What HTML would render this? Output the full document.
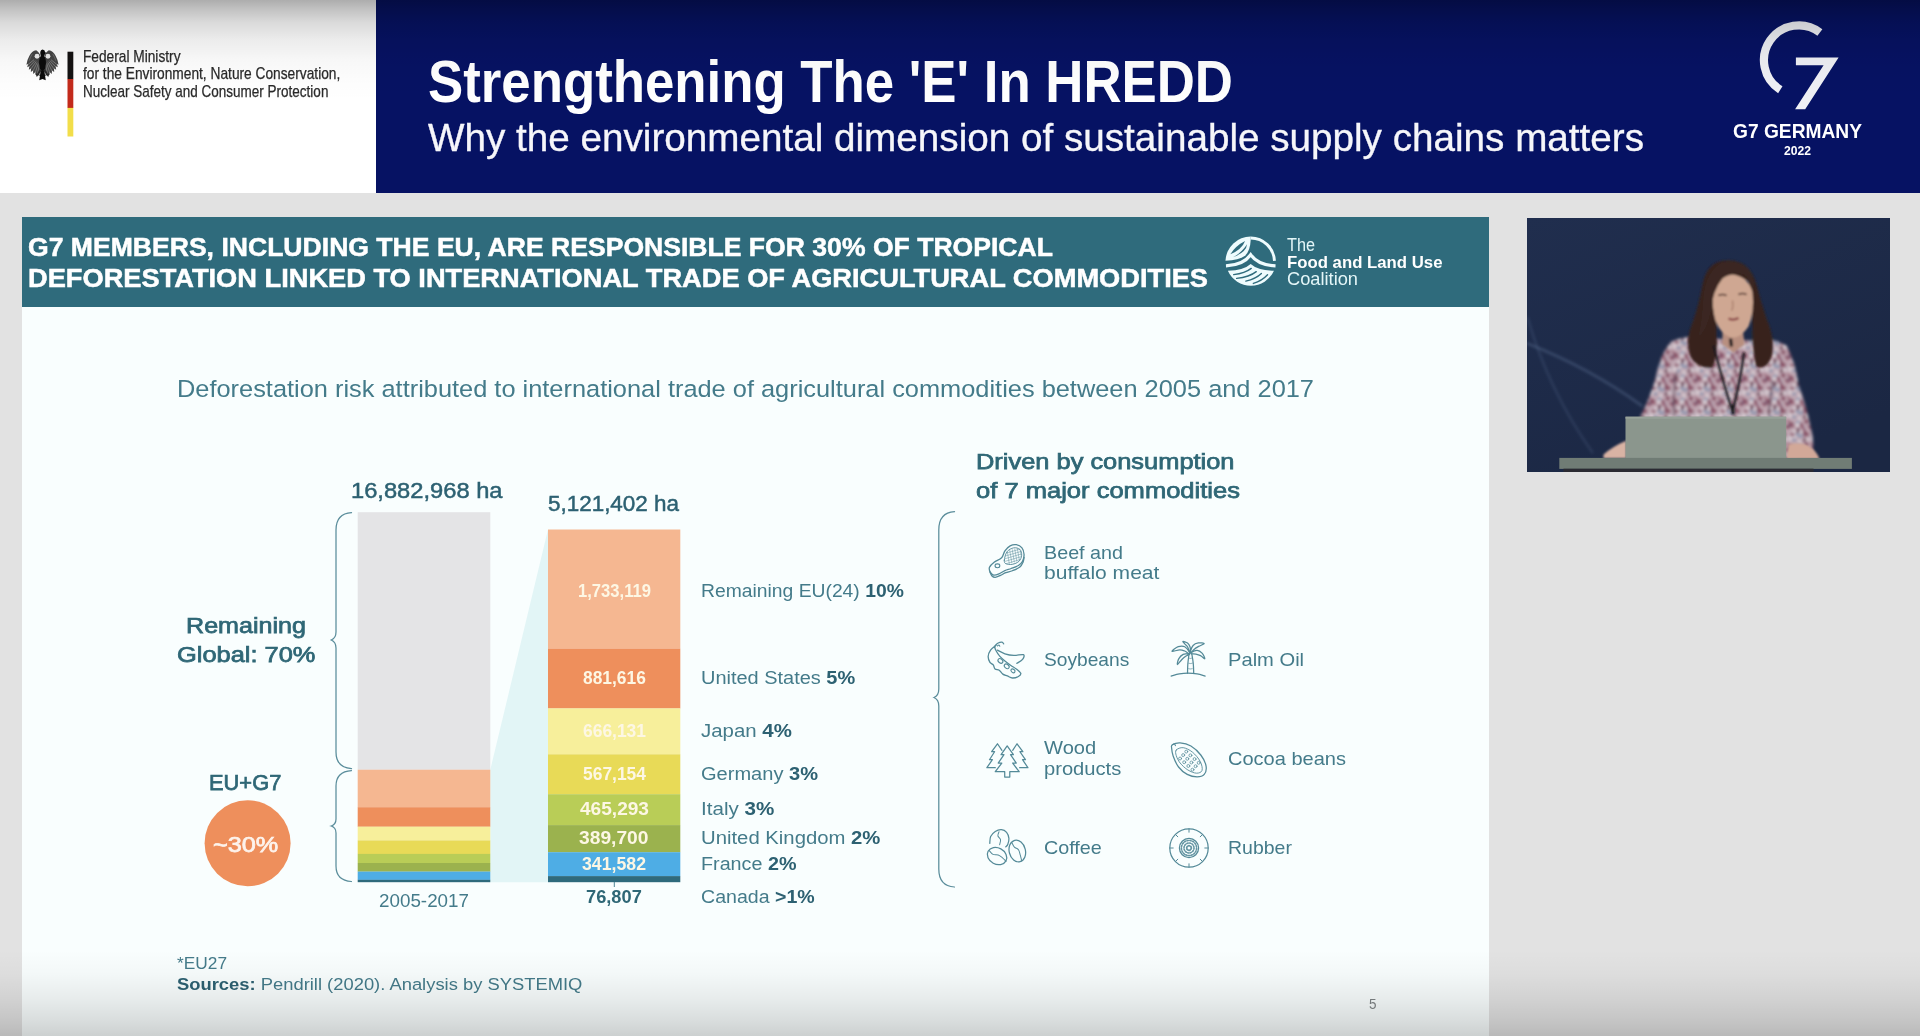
<!DOCTYPE html>
<html lang="en">
<head>
<meta charset="utf-8">
<title>Strengthening The 'E' In HREDD</title>
<style>
html,body{margin:0;padding:0;}
body{width:1920px;height:1036px;overflow:hidden;background:#e2e2e2;position:relative;font-family:"Liberation Sans",sans-serif;}
.abs{position:absolute;}
.t{position:absolute;white-space:nowrap;transform-origin:0 50%;display:inline-block;}
.t b{font-weight:bold;}
#white{left:0;top:0;width:376px;height:192.5px;background:#fff;}
#blue{left:376px;top:0;width:1544px;height:192.5px;background:#061263;}
#slide{left:22px;top:217px;width:1467px;height:819px;background:#f9fefe;}
#teal{left:22px;top:217px;width:1467px;height:89.5px;background:#2f6b7c;}
#video{left:1526.5px;top:217.5px;width:363px;height:254.5px;background:#1e2b49;overflow:hidden;}
#shadeTop{left:0;top:0;width:1920px;height:100px;background:linear-gradient(to bottom,rgba(0,0,0,0.32) 0,rgba(0,0,0,0.235) 10%,rgba(0,0,0,0.15) 22%,rgba(0,0,0,0.075) 40%,rgba(0,0,0,0.032) 60%,rgba(0,0,0,0.01) 80%,rgba(0,0,0,0) 100%);pointer-events:none;}
#shadeBot{left:0;top:950px;width:1920px;height:86px;background:linear-gradient(to bottom,rgba(0,0,0,0) 0,rgba(0,0,0,0.025) 28%,rgba(0,0,0,0.075) 58%,rgba(0,0,0,0.13) 82%,rgba(0,0,0,0.18) 100%);pointer-events:none;}
svg{position:absolute;left:0;top:0;overflow:visible;}
</style>
</head>
<body>
<div id="white" class="abs"></div>
<div id="blue" class="abs"></div>
<div id="slide" class="abs"></div>
<div id="teal" class="abs"></div>
<div id="video" class="abs"><svg width="363" height="254.5" viewBox="1526.5 217.5 363 254.5" style="position:absolute;left:0;top:0">
<defs>
<filter id="bl1" x="-20%" y="-20%" width="140%" height="140%"><feGaussianBlur stdDeviation="1.1"/></filter>
<filter id="bl2" x="-20%" y="-20%" width="140%" height="140%"><feGaussianBlur stdDeviation="0.7"/></filter>
<filter id="bl3" x="-20%" y="-20%" width="140%" height="140%"><feGaussianBlur stdDeviation="1.6"/></filter>
<linearGradient id="vbg" x1="0" y1="0" x2="0.6" y2="1"><stop offset="0" stop-color="#202e4e"/><stop offset="1" stop-color="#1b2743"/></linearGradient>
<pattern id="floral" width="22" height="22" patternUnits="userSpaceOnUse" patternTransform="translate(1640 330) scale(1.05)">
<rect width="22" height="22" fill="#cdb6c0"/>
<ellipse cx="-1.1" cy="8.7" rx="1.2" ry="1.6" fill="#efeaed" transform="rotate(16 -1.1 8.7)"/>
<ellipse cx="20.9" cy="8.7" rx="1.2" ry="1.6" fill="#efeaed" transform="rotate(16 20.9 8.7)"/>
<ellipse cx="1.3" cy="11.2" rx="1.1" ry="1.3" fill="#8fa0bb" transform="rotate(12 1.3 11.2)"/>
<ellipse cx="23.3" cy="11.2" rx="1.1" ry="1.3" fill="#8fa0bb" transform="rotate(12 23.3 11.2)"/>
<ellipse cx="12.1" cy="1.3" rx="1.8" ry="1.8" fill="#84435a" transform="rotate(113 12.1 1.3)"/>
<ellipse cx="12.1" cy="23.3" rx="1.8" ry="1.8" fill="#84435a" transform="rotate(113 12.1 23.3)"/>
<ellipse cx="-1.2" cy="12.7" rx="1.6" ry="1.8" fill="#8fa0bb" transform="rotate(8 -1.2 12.7)"/>
<ellipse cx="20.8" cy="12.7" rx="1.6" ry="1.8" fill="#8fa0bb" transform="rotate(8 20.8 12.7)"/>
<ellipse cx="6.4" cy="3.2" rx="1.3" ry="1.2" fill="#84435a" transform="rotate(146 6.4 3.2)"/>
<ellipse cx="2.3" cy="12.6" rx="1.3" ry="1.0" fill="#9c5a6e" transform="rotate(128 2.3 12.6)"/>
<ellipse cx="24.3" cy="12.6" rx="1.3" ry="1.0" fill="#9c5a6e" transform="rotate(128 24.3 12.6)"/>
<ellipse cx="1.3" cy="4.5" rx="2.0" ry="1.3" fill="#8fa0bb" transform="rotate(56 1.3 4.5)"/>
<ellipse cx="23.3" cy="4.5" rx="2.0" ry="1.3" fill="#8fa0bb" transform="rotate(56 23.3 4.5)"/>
<ellipse cx="-1.7" cy="8.0" rx="1.4" ry="1.1" fill="#8fa0bb" transform="rotate(140 -1.7 8.0)"/>
<ellipse cx="20.3" cy="8.0" rx="1.4" ry="1.1" fill="#8fa0bb" transform="rotate(140 20.3 8.0)"/>
<ellipse cx="12.6" cy="11.6" rx="2.2" ry="1.6" fill="#84435a" transform="rotate(51 12.6 11.6)"/>
<ellipse cx="2.6" cy="9.2" rx="2.1" ry="1.0" fill="#84435a" transform="rotate(88 2.6 9.2)"/>
<ellipse cx="24.6" cy="9.2" rx="2.1" ry="1.0" fill="#84435a" transform="rotate(88 24.6 9.2)"/>
<ellipse cx="-0.8" cy="1.7" rx="1.8" ry="1.6" fill="#84435a" transform="rotate(147 -0.8 1.7)"/>
<ellipse cx="-0.8" cy="23.7" rx="1.8" ry="1.6" fill="#84435a" transform="rotate(147 -0.8 23.7)"/>
<ellipse cx="21.2" cy="1.7" rx="1.8" ry="1.6" fill="#84435a" transform="rotate(147 21.2 1.7)"/>
<ellipse cx="21.2" cy="23.7" rx="1.8" ry="1.6" fill="#84435a" transform="rotate(147 21.2 23.7)"/>
<ellipse cx="15.3" cy="13.1" rx="1.9" ry="1.3" fill="#efeaed" transform="rotate(151 15.3 13.1)"/>
<ellipse cx="10.4" cy="14.6" rx="1.2" ry="1.5" fill="#efeaed" transform="rotate(116 10.4 14.6)"/>
<ellipse cx="18.1" cy="6.3" rx="1.6" ry="1.5" fill="#5a2b40" transform="rotate(4 18.1 6.3)"/>
<ellipse cx="7.8" cy="13.4" rx="1.7" ry="1.1" fill="#efeaed" transform="rotate(51 7.8 13.4)"/>
<ellipse cx="8.8" cy="-1.8" rx="1.7" ry="1.0" fill="#9c5a6e" transform="rotate(72 8.8 -1.8)"/>
<ellipse cx="8.8" cy="20.2" rx="1.7" ry="1.0" fill="#9c5a6e" transform="rotate(72 8.8 20.2)"/>
<ellipse cx="-2.6" cy="18.0" rx="2.2" ry="1.2" fill="#efeaed" transform="rotate(74 -2.6 18.0)"/>
<ellipse cx="19.4" cy="18.0" rx="2.2" ry="1.2" fill="#efeaed" transform="rotate(74 19.4 18.0)"/>
<ellipse cx="15.0" cy="8.4" rx="1.4" ry="1.0" fill="#efeaed" transform="rotate(27 15.0 8.4)"/>
<ellipse cx="5.1" cy="10.7" rx="1.9" ry="1.1" fill="#5a2b40" transform="rotate(0 5.1 10.7)"/>
<ellipse cx="11.8" cy="13.4" rx="1.5" ry="1.0" fill="#efeaed" transform="rotate(154 11.8 13.4)"/>
<ellipse cx="14.4" cy="16.3" rx="1.7" ry="1.7" fill="#8fa0bb" transform="rotate(171 14.4 16.3)"/>
<ellipse cx="17.6" cy="8.6" rx="1.6" ry="1.0" fill="#5a2b40" transform="rotate(114 17.6 8.6)"/>
<ellipse cx="4.2" cy="-0.3" rx="1.7" ry="1.0" fill="#84435a" transform="rotate(108 4.2 -0.3)"/>
<ellipse cx="4.2" cy="21.7" rx="1.7" ry="1.0" fill="#84435a" transform="rotate(108 4.2 21.7)"/>
<ellipse cx="0.0" cy="3.3" rx="1.2" ry="1.2" fill="#84435a" transform="rotate(4 0.0 3.3)"/>
<ellipse cx="22.0" cy="3.3" rx="1.2" ry="1.2" fill="#84435a" transform="rotate(4 22.0 3.3)"/>
<ellipse cx="13.5" cy="3.3" rx="1.4" ry="1.2" fill="#9c5a6e" transform="rotate(65 13.5 3.3)"/>
<ellipse cx="2.5" cy="10.7" rx="2.4" ry="1.3" fill="#84435a" transform="rotate(56 2.5 10.7)"/>
<ellipse cx="24.5" cy="10.7" rx="2.4" ry="1.3" fill="#84435a" transform="rotate(56 24.5 10.7)"/>
<ellipse cx="2.2" cy="7.5" rx="1.4" ry="1.6" fill="#84435a" transform="rotate(29 2.2 7.5)"/>
<ellipse cx="24.2" cy="7.5" rx="1.4" ry="1.6" fill="#84435a" transform="rotate(29 24.2 7.5)"/>
<ellipse cx="4.5" cy="-1.1" rx="1.6" ry="1.5" fill="#84435a" transform="rotate(164 4.5 -1.1)"/>
<ellipse cx="4.5" cy="20.9" rx="1.6" ry="1.5" fill="#84435a" transform="rotate(164 4.5 20.9)"/>
<ellipse cx="6.6" cy="14.1" rx="1.2" ry="1.7" fill="#6d4a66" transform="rotate(93 6.6 14.1)"/>
<ellipse cx="7.8" cy="4.9" rx="1.8" ry="1.4" fill="#9c5a6e" transform="rotate(114 7.8 4.9)"/>
<ellipse cx="17.9" cy="-0.3" rx="2.2" ry="1.6" fill="#8fa0bb" transform="rotate(147 17.9 -0.3)"/>
<ellipse cx="17.9" cy="21.7" rx="2.2" ry="1.6" fill="#8fa0bb" transform="rotate(147 17.9 21.7)"/>
<ellipse cx="4.4" cy="10.8" rx="2.1" ry="1.8" fill="#9c5a6e" transform="rotate(142 4.4 10.8)"/>
<ellipse cx="5.7" cy="15.2" rx="2.3" ry="1.3" fill="#efeaed" transform="rotate(168 5.7 15.2)"/>
<ellipse cx="-1.0" cy="8.0" rx="1.4" ry="1.1" fill="#efeaed" transform="rotate(35 -1.0 8.0)"/>
<ellipse cx="21.0" cy="8.0" rx="1.4" ry="1.1" fill="#efeaed" transform="rotate(35 21.0 8.0)"/>
<ellipse cx="10.6" cy="-0.3" rx="1.9" ry="0.9" fill="#9c5a6e" transform="rotate(163 10.6 -0.3)"/>
<ellipse cx="10.6" cy="21.7" rx="1.9" ry="0.9" fill="#9c5a6e" transform="rotate(163 10.6 21.7)"/>
<ellipse cx="17.6" cy="1.9" rx="2.0" ry="1.7" fill="#efeaed" transform="rotate(140 17.6 1.9)"/>
<ellipse cx="17.6" cy="23.9" rx="2.0" ry="1.7" fill="#efeaed" transform="rotate(140 17.6 23.9)"/>
<ellipse cx="10.5" cy="3.9" rx="2.1" ry="1.2" fill="#9c5a6e" transform="rotate(144 10.5 3.9)"/>
<ellipse cx="10.2" cy="16.4" rx="1.2" ry="1.0" fill="#efeaed" transform="rotate(178 10.2 16.4)"/>
<ellipse cx="3.3" cy="-2.1" rx="2.1" ry="1.0" fill="#84435a" transform="rotate(148 3.3 -2.1)"/>
<ellipse cx="3.3" cy="19.9" rx="2.1" ry="1.0" fill="#84435a" transform="rotate(148 3.3 19.9)"/>
<ellipse cx="14.5" cy="7.7" rx="1.8" ry="1.0" fill="#efeaed" transform="rotate(2 14.5 7.7)"/>
<ellipse cx="2.3" cy="16.5" rx="1.3" ry="1.8" fill="#5a2b40" transform="rotate(35 2.3 16.5)"/>
<ellipse cx="24.3" cy="16.5" rx="1.3" ry="1.8" fill="#5a2b40" transform="rotate(35 24.3 16.5)"/>
<ellipse cx="0.6" cy="4.7" rx="1.8" ry="1.6" fill="#9c5a6e" transform="rotate(58 0.6 4.7)"/>
<ellipse cx="22.6" cy="4.7" rx="1.8" ry="1.6" fill="#9c5a6e" transform="rotate(58 22.6 4.7)"/>
<ellipse cx="9.2" cy="2.9" rx="2.3" ry="1.2" fill="#6d4a66" transform="rotate(82 9.2 2.9)"/>
<ellipse cx="9.2" cy="24.9" rx="2.3" ry="1.2" fill="#6d4a66" transform="rotate(82 9.2 24.9)"/>
<ellipse cx="17.9" cy="11.4" rx="2.2" ry="1.7" fill="#8fa0bb" transform="rotate(23 17.9 11.4)"/>
<ellipse cx="11.5" cy="0.4" rx="1.7" ry="1.1" fill="#84435a" transform="rotate(0 11.5 0.4)"/>
<ellipse cx="11.5" cy="22.4" rx="1.7" ry="1.1" fill="#84435a" transform="rotate(0 11.5 22.4)"/>
<ellipse cx="3.8" cy="10.4" rx="2.0" ry="1.4" fill="#84435a" transform="rotate(58 3.8 10.4)"/>
</pattern>
</defs>
<rect x="1526.5" y="217.5" width="363" height="254.5" fill="url(#vbg)"/>
<g fill="none" stroke="#64799e" stroke-linecap="round" filter="url(#bl3)">
<path d="M1527,317 Q1548,390 1592,452" stroke-width="1.6" opacity="0.32"/>
<path d="M1527,343 Q1590,368 1641,405" stroke-width="2.2" opacity="0.45"/>
</g>
<g filter="url(#bl3)">
<!-- blouse -->
<path d="M1671,341 Q1690,333 1712,338 L1750,340 Q1772,336 1786,345 Q1795,362 1798,384 Q1806,406 1810,426 Q1814,440 1812,452 L1790,458 L1640,458 L1640,416 Q1650,396 1655,378 Q1660,352 1671,341 Z" fill="url(#floral)"/>
<path d="M1671,341 Q1690,333 1712,338 L1750,340 Q1772,336 1786,345 Q1795,362 1798,384 Q1806,406 1810,426 Q1814,440 1812,452 L1790,458 L1640,458 L1640,416 Q1650,396 1655,378 Q1660,352 1671,341 Z" fill="#8a7482" opacity="0.2"/>
<!-- sleeve shadows -->
<path d="M1676,372 Q1672,396 1674,416 M1772,380 Q1770,400 1768,416" stroke="#5c4658" stroke-width="3" fill="none" opacity="0.55"/>
</g><g filter="url(#bl1)">
<!-- hands -->
<path d="M1626,440 Q1612,446 1603,454 L1603,458 L1626,458 Z" fill="#d9b3a4"/>
<path d="M1788,444 Q1802,440 1812,448 Q1818,454 1819,459 L1786,459 Z" fill="#d2a898"/>
<!-- neck -->
<path d="M1722,326 L1742,326 L1744,344 L1733,352 L1722,344 Z" fill="#b88f7f"/>
<!-- hair back -->
<path d="M1724,260 Q1706,262 1702,284 Q1698,306 1692,322 Q1684,340 1690,356 Q1696,368 1712,367 Q1718,352 1716,334 L1716,300 Q1718,282 1730,276 L1748,280 Q1752,304 1752,328 Q1752,352 1756,366 Q1768,370 1772,352 Q1774,336 1766,318 Q1760,300 1756,284 Q1750,264 1736,261 Q1730,259 1724,260 Z" fill="#37241f"/>
<!-- face -->
<path d="M1713,292 Q1716,276 1732,274 Q1748,276 1752,292 Q1754,312 1748,326 Q1740,338 1731,337 Q1720,334 1715,320 Q1711,306 1713,292 Z" fill="#cfa792"/>
<!-- hair front sweep -->
<path d="M1722,262 Q1706,270 1703,296 Q1702,318 1698,336 Q1706,330 1710,312 Q1712,290 1722,278 Q1732,270 1744,274 Q1750,280 1753,294 Q1756,280 1748,268 Q1736,258 1722,262 Z" fill="#3b2721"/>
<path d="M1718,295 q4,-2 8,0 M1738,294 q4,-2 8,0" stroke="#4a2f2a" stroke-width="1.6" fill="none"/>
<path d="M1732,300 q1,8 -1,10" stroke="#a97e6d" stroke-width="1.4" fill="none"/>
<path d="M1728,318 q5,2.500 10,-0.500" stroke="#8a4446" stroke-width="2.400" fill="none"/>
<!-- mic + lanyard -->
<path d="M1730,338 l1,8" stroke="#1d1a1c" stroke-width="3.200"/>
<path d="M1713,345 Q1722,380 1732,411 Q1740,380 1743.500,352" fill="none" stroke="#17161a" stroke-width="2.100"/>
<path d="M1731,404 l3,0 l0,10 l-3,0 z" fill="#17161a"/>
</g>
<!-- laptop + lectern -->
<g filter="url(#bl2)">
<rect x="1625" y="416.200" width="160.700" height="42" fill="#8b968d"/>
<rect x="1625" y="416.200" width="160.700" height="2" fill="#97a199"/>
<rect x="1558.800" y="457.400" width="292.600" height="11" fill="#707b74"/>
<rect x="1563" y="468.200" width="250" height="3.300" fill="#2a2c33"/>
</g>
</svg></div>

<!-- main vector layer -->
<svg id="art" width="1920" height="1036" viewBox="0 0 1920 1036">
<g id="logos">
<!-- flag bar -->
<rect x="67.5" y="51.7" width="5.8" height="27.5" fill="#141212"/>
<rect x="67.5" y="79" width="5.8" height="29" fill="#c32a1b"/>
<rect x="67.5" y="107.900" width="5.8" height="28.6" fill="#f2de4a"/>
<!-- federal eagle (simplified) -->
<g id="eagle" transform="translate(20,40) scale(0.10135)">
<g fill="#454545">
<path d="M207,196 Q206,128 160,100 Q116,106 92,158 Q68,200 63,244 L80,236 L71,270 L92,258 L87,294 L108,280 L107,316 L128,300 L131,336 L150,318 L158,349 L173,324 L186,340 L204,290 Z"/>
<path d="M237,196 Q238,128 284,100 Q328,106 352,158 Q376,200 381,244 L364,236 L373,270 L352,258 L357,294 L336,280 L337,316 L316,300 L313,336 L294,318 L286,349 L271,324 L258,340 L240,290 Z"/>
</g>
<g stroke="#f2f2f2" stroke-width="5" stroke-linecap="round" opacity="0.6" fill="none">
<path d="M136,196 L82,240 M146,206 L93,262 M157,216 L109,284 M168,226 L129,304 M179,236 L151,322 M190,246 L174,328"/>
<path d="M308,196 L362,240 M298,206 L351,262 M287,216 L335,284 M276,226 L315,304 M265,236 L293,322 M254,246 L270,328"/>
<path d="M120,140 Q100,170 92,200 M324,140 Q344,170 352,200" opacity="0.7"/>
</g>
<circle cx="168" cy="160" r="24" fill="#ebebeb"/>
<circle cx="276" cy="160" r="24" fill="#ebebeb"/>
<g fill="#0b0b0b">
<path d="M222,94 Q246,96 248,120 L264,128 L246,137 Q244,150 238,160 Q258,182 256,232 Q252,276 240,302 L254,397 L222,384 L190,397 L204,302 Q192,276 188,232 Q186,182 206,160 Q198,140 200,118 Q204,96 222,94 Z"/>
<path d="M200,285 L168,330 L148,332 L158,346 L166,366 L180,347 L198,354 L190,336 L214,300 Z" fill="#2a2a2a"/>
<path d="M244,285 L276,330 L296,332 L286,346 L278,366 L264,347 L246,354 L254,336 L230,300 Z" fill="#2a2a2a"/>
</g>
</g>
<!-- G7 mark -->
<path d="M1819.9,32.4 A34.9,34.9 0 1 0 1780.3,89.8" fill="none" stroke="#eff0f5" stroke-width="8.2"/>
<polygon points="1795.9,57.5 1838.6,57.5 1805.2,109.3 1795.1,109.3 1823.6,65.2 1795.9,65.2" fill="#eff0f5"/>
<!-- FOLU mark -->
<g id="folu" transform="translate(1220,230) scale(0.062735)">
<path d="M88,482 A403,403 0 0 1 489,104 L489,160 Q482,330 400,412 Q300,482 88,492 Z" fill="#eefbfd"/>
<path d="M165,385 Q250,250 400,175 Q345,315 165,385 Z" fill="#2f6b7c"/>
<path d="M205,436 Q335,372 432,228 Q420,356 205,436 Z" fill="#2f6b7c"/>
<path d="M489,127 A380,380 0 0 1 868,492" fill="none" stroke="#eefbfd" stroke-width="46"/>
<path d="M95,572 Q370,560 489,395 Q610,560 885,572" fill="none" stroke="#eefbfd" stroke-width="52"/>
<path d="M125,650 Q380,640 489,540 Q600,640 860,650 A403,403 0 0 1 125,650 Z" fill="#eefbfd"/>
<g fill="none" stroke="#2f6b7c" stroke-width="22" stroke-linecap="round">
<path d="M218,712 Q400,690 498,612"/>
<path d="M265,772 Q470,750 578,664"/>
<path d="M412,815 Q570,780 660,694"/>
<path d="M532,852 Q670,810 758,714"/>
</g>
</g>
</g>

<g id="chart">
<polygon points="490.3,769.7 548,529.5 548,882.2 490.3,882.2" fill="#e2f5f6"/>
<rect x="357.7" y="512.2" width="132.6" height="257.6" fill="#e4e4e6"/>
<g id="barL">
<rect x="357.7" y="769.7" width="132.6" height="37.6" fill="#f5b791"/>
<rect x="357.7" y="807.2" width="132.6" height="19.6" fill="#ee8f5c"/>
<rect x="357.7" y="826.7" width="132.6" height="13.8" fill="#f7ef9b"/>
<rect x="357.7" y="840.4" width="132.6" height="13.6" fill="#e8da57"/>
<rect x="357.7" y="853.9" width="132.6" height="9.2" fill="#b9cd57"/>
<rect x="357.7" y="863" width="132.6" height="8.7" fill="#9bb24e"/>
<rect x="357.7" y="871.6" width="132.6" height="8.3" fill="#4eade5"/>
<rect x="357.7" y="879.8" width="132.6" height="2.4" fill="#2f6a7c"/>
</g>
<g id="barR">
<rect x="548" y="529.5" width="132.3" height="119.3" fill="#f5b791"/>
<rect x="548" y="648.7" width="132.3" height="59.8" fill="#ee8f5c"/>
<rect x="548" y="708.4" width="132.3" height="46" fill="#f7ef9b"/>
<rect x="548" y="754.3" width="132.3" height="40" fill="#e8da57"/>
<rect x="548" y="794.2" width="132.3" height="31" fill="#b9cd57"/>
<rect x="548" y="825.1" width="132.3" height="27.2" fill="#9bb24e"/>
<rect x="548" y="852.2" width="132.3" height="24" fill="#4eade5"/>
<rect x="548" y="876.1" width="132.3" height="6.1" fill="#2f6a7c"/>
</g>
<line x1="614.3" y1="882" x2="614.3" y2="887" stroke="#4d8595" stroke-width="1"/>
<g fill="none" stroke="#5a8d9b" stroke-width="1.25" stroke-linecap="round">
<path d="M351.5,512.6 Q336,513.5 336,530 L336,632 Q336,638 331.2,640 Q336,642 336,648 L336,752 Q336,767.5 351.5,768.6"/>
<path d="M351.5,770.6 Q336,771.5 336,786 L336,819 Q336,824.5 331.2,826 Q336,827.5 336,833 L336,866 Q336,880.5 351.5,881.5"/>
<path d="M954.5,511.6 Q938.8,512.5 938.8,530 L938.8,689 Q938.8,695.5 934,697.5 Q938.8,699.5 938.8,706 L938.8,869 Q938.8,886 954.5,887"/>
</g>
<circle cx="247.6" cy="843.3" r="43" fill="#ee8f5c"/>
</g>

<g id="icons" fill="none" stroke="#548a98" stroke-linecap="round" stroke-linejoin="round">
<g transform="translate(975,535) scale(0.14957)" stroke-width="8.7">
<path d="M97.0,215.0 C101.3,204.0 114.5,192.5 128.0,182.0 C141.5,171.5 166.0,164.7 178.0,152.0 C190.0,139.3 190.5,119.2 200.0,106.0 C209.5,92.8 222.3,79.8 235.0,73.0 C247.7,66.2 262.8,62.8 276.0,65.0 C289.2,67.2 305.3,75.2 314.0,86.0 C322.7,96.8 327.3,115.0 328.0,130.0 C328.7,145.0 324.3,163.7 318.0,176.0 C311.7,188.3 302.7,196.0 290.0,204.0 C277.3,212.0 257.0,218.3 242.0,224.0 C227.0,229.7 213.7,232.0 200.0,238.0 C186.3,244.0 172.5,255.0 160.0,260.0 C147.5,265.0 134.7,270.0 125.0,268.0 C115.3,266.0 106.7,256.8 102.0,248.0 C97.3,239.2 92.7,226.0 97.0,215.0 Z"/>
<path d="M99.0,246.0 C101.2,250.3 106.0,265.8 112.0,272.0 C118.0,278.2 125.3,283.3 135.0,283.0 C144.7,282.7 158.2,275.2 170.0,270.0 C181.8,264.8 192.7,257.2 206.0,252.0 C219.3,246.8 234.3,245.3 250.0,239.0 C265.7,232.7 288.0,223.8 300.0,214.0 C312.0,204.2 317.3,190.7 322.0,180.0 C326.7,169.3 327.0,155.0 328.0,150.0"/>
<path d="M196.0,168.0 C197.3,154.7 203.7,125.7 214.0,112.0 C224.3,98.3 243.7,88.7 258.0,86.0 C272.3,83.3 291.0,87.7 300.0,96.0 C309.0,104.3 313.0,122.7 312.0,136.0 C311.0,149.3 304.3,166.0 294.0,176.0 C283.7,186.0 264.7,193.3 250.0,196.0 C235.3,198.7 215.0,196.7 206.0,192.0 C197.0,187.3 194.7,181.3 196.0,168.0 Z" stroke-width="6.0"/>
<clipPath id="beefclip"><path d="M196.0,168.0 C197.3,154.7 203.7,125.7 214.0,112.0 C224.3,98.3 243.7,88.7 258.0,86.0 C272.3,83.3 291.0,87.7 300.0,96.0 C309.0,104.3 313.0,122.7 312.0,136.0 C311.0,149.3 304.3,166.0 294.0,176.0 C283.7,186.0 264.7,193.3 250.0,196.0 C235.3,198.7 215.0,196.7 206.0,192.0 C197.0,187.3 194.7,181.3 196.0,168.0 Z"/></clipPath>
<path d="M205,122 L310,92 M204,140 L308,110 M203,158 L306,128 M202,176 L304,146 M201,194 L302,164 M200,212 L300,182 M215,104 L229,190 M232,101 L246,185 M249,98 L263,180 M266,95 L280,175 M283,92 L297,170 M300,89 L314,165" stroke-width="4.0" opacity="0.8" clip-path="url(#beefclip)"/>
<ellipse cx="150" cy="206" rx="16" ry="13" stroke-width="7.4"/>
<path d="M140.0,737.0 C135.3,740.7 112.7,757.5 104.0,770.0 C95.3,782.5 88.7,798.3 88.0,812.0 C87.3,825.7 94.3,842.7 100.0,852.0 C105.7,861.3 116.3,860.7 122.0,868.0 C127.7,875.3 127.3,890.0 134.0,896.0 C140.7,902.0 153.3,898.3 162.0,904.0 C170.7,909.7 177.0,923.7 186.0,930.0 C195.0,936.3 205.3,937.7 216.0,942.0 C226.7,946.3 237.7,955.3 250.0,956.0 C262.3,956.7 280.7,951.3 290.0,946.0 C299.3,940.7 308.3,932.3 306.0,924.0 C303.7,915.7 287.0,904.7 276.0,896.0 C265.0,887.3 252.7,881.0 240.0,872.0 C227.3,863.0 212.5,852.3 200.0,842.0 C187.5,831.7 174.7,821.0 165.0,810.0 C155.3,799.0 147.5,786.3 142.0,776.0 C136.5,765.7 132.3,754.5 132.0,748.0 C131.7,741.5 144.7,733.3 140.0,737.0 Z"/>
<path d="M150.0,770.0 C158.3,774.0 181.7,788.2 200.0,794.0 C218.3,799.8 239.3,804.0 260.0,805.0 C280.7,806.0 314.3,795.5 324.0,800.0 C333.7,804.5 325.3,822.3 318.0,832.0 C310.7,841.7 286.3,853.7 280.0,858.0"/>
<path d="M134.0,742.0 C137.0,739.0 144.3,728.3 152.0,724.0 C159.7,719.7 173.3,715.3 180.0,716.0 C186.7,716.7 190.0,726.0 192.0,728.0"/>
<path d="M150.0,742.0 C151.7,740.8 157.3,734.7 160.0,735.0 C162.7,735.3 165.0,742.5 166.0,744.0" stroke-width="6.7"/>
<ellipse cx="170" cy="842" rx="18" ry="13" transform="rotate(38 170 842)" stroke-width="7.4"/>
<ellipse cx="212" cy="878" rx="18" ry="13" transform="rotate(38 212 878)" stroke-width="7.4"/>
<ellipse cx="254" cy="908" rx="15" ry="11" transform="rotate(38 254 908)" stroke-width="7.4"/>
</g>
<g transform="translate(1160,630) scale(0.15463)" stroke-width="8.1">
<path d="M72.0,298.0 C80.8,295.7 107.0,287.2 125.0,284.0 C143.0,280.8 160.8,279.0 180.0,279.0 C199.2,279.0 221.3,280.8 240.0,284.0 C258.7,287.2 283.3,295.7 292.0,298.0"/>
<path d="M178.0,280.0 C178.3,270.0 178.3,241.3 180.0,220.0 C181.7,198.7 186.7,163.3 188.0,152.0"/>
<path d="M218.0,280.0 C217.5,269.2 217.2,236.3 215.0,215.0 C212.8,193.7 206.7,162.5 205.0,152.0"/>
<path d="M186.0,250.0 C187.7,250.3 192.3,252.0 196.0,252.0 C199.7,252.0 206.0,250.3 208.0,250.0 M186.0,215.0 C188.0,215.3 194.0,217.2 198.0,217.0 C202.0,216.8 208.0,214.5 210.0,214.0 M188.0,182.0 C189.7,182.3 194.7,184.2 198.0,184.0 C201.3,183.8 206.3,181.5 208.0,181.0" stroke-width="4.5"/>
<path d="M190.0,142.0 C185.7,134.7 172.0,113.7 160.0,108.0 C148.0,102.3 131.7,103.0 118.0,108.0 C104.3,113.0 76.3,134.7 78.0,138.0 C79.7,141.3 114.3,128.3 128.0,128.0 C141.7,127.7 150.3,132.0 160.0,136.0 C169.7,140.0 181.0,151.0 186.0,152.0 C191.0,153.0 194.3,149.3 190.0,142.0 Z"/>
<path d="M186.0,152.0 C179.3,152.0 160.7,152.5 150.0,158.0 C139.3,163.5 128.3,174.0 122.0,185.0 C115.7,196.0 109.0,222.8 112.0,224.0 C115.0,225.2 131.0,201.0 140.0,192.0 C149.0,183.0 157.7,175.7 166.0,170.0 C174.3,164.3 186.7,161.0 190.0,158.0 C193.3,155.0 192.7,152.0 186.0,152.0 Z"/>
<path d="M190.0,140.0 C187.0,135.0 182.2,115.5 178.0,108.0 C173.8,100.5 170.0,100.7 165.0,95.0 C160.0,89.3 145.8,75.8 148.0,74.0 C150.2,72.2 170.3,78.3 178.0,84.0 C185.7,89.7 191.0,99.0 194.0,108.0 C197.0,117.0 196.7,132.7 196.0,138.0 C195.3,143.3 193.0,145.0 190.0,140.0 Z"/>
<path d="M196.0,140.0 C198.0,132.3 205.3,109.3 214.0,100.0 C222.7,90.7 236.0,86.0 248.0,84.0 C260.0,82.0 285.7,84.3 286.0,88.0 C286.3,91.7 260.7,100.0 250.0,106.0 C239.3,112.0 230.0,117.3 222.0,124.0 C214.0,130.7 206.3,143.3 202.0,146.0 C197.7,148.7 194.0,147.7 196.0,140.0 Z"/>
<path d="M202.0,146.0 C208.0,142.3 228.3,131.3 240.0,132.0 C251.7,132.7 263.7,141.0 272.0,150.0 C280.3,159.0 291.7,183.3 290.0,186.0 C288.3,188.7 271.7,171.0 262.0,166.0 C252.3,161.0 241.7,158.0 232.0,156.0 C222.3,154.0 209.0,155.7 204.0,154.0 C199.0,152.3 196.0,149.7 202.0,146.0 Z"/>
<path d="M80.0,742.0 C89.2,736.7 110.0,728.7 130.0,730.0 C150.0,731.3 177.5,736.7 200.0,750.0 C222.5,763.3 248.7,788.3 265.0,810.0 C281.3,831.7 294.5,859.3 298.0,880.0 C301.5,900.7 295.7,922.3 286.0,934.0 C276.3,945.7 258.3,950.0 240.0,950.0 C221.7,950.0 196.0,944.7 176.0,934.0 C156.0,923.3 135.2,905.8 120.0,886.0 C104.8,866.2 92.5,835.7 85.0,815.0 C77.5,794.3 75.8,774.2 75.0,762.0 C74.2,749.8 70.8,747.3 80.0,742.0 Z"/>
<path d="M105.0,776.0 C112.5,767.5 132.5,758.7 150.0,761.0 C167.5,763.3 191.7,775.2 210.0,790.0 C228.3,804.8 249.7,830.3 260.0,850.0 C270.3,869.7 276.0,895.3 272.0,908.0 C268.0,920.7 251.3,926.5 236.0,926.0 C220.7,925.5 197.7,916.0 180.0,905.0 C162.3,894.0 142.5,875.5 130.0,860.0 C117.5,844.5 109.2,826.0 105.0,812.0 C100.8,798.0 97.5,784.5 105.0,776.0 Z" stroke-width="5.8"/>
<path d="M80.0,742.0 C82.0,741.0 88.7,735.0 92.0,736.0 C95.3,737.0 98.7,746.0 100.0,748.0" stroke-width="6.5"/>
<circle cx="169.9" cy="786.6" r="9.500" stroke-width="4.9"/>
<circle cx="196.7" cy="810.7" r="9.500" stroke-width="4.9"/>
<circle cx="223.5" cy="834.8" r="9.500" stroke-width="4.9"/>
<circle cx="250.2" cy="858.8" r="9.500" stroke-width="4.9"/>
<circle cx="149.9" cy="808.9" r="9.500" stroke-width="4.9"/>
<circle cx="176.6" cy="833.0" r="9.500" stroke-width="4.9"/>
<circle cx="203.4" cy="857.0" r="9.500" stroke-width="4.9"/>
<circle cx="230.1" cy="881.1" r="9.500" stroke-width="4.9"/>
<circle cx="129.8" cy="831.2" r="9.500" stroke-width="4.9"/>
<circle cx="156.5" cy="855.2" r="9.500" stroke-width="4.9"/>
<circle cx="183.3" cy="879.3" r="9.500" stroke-width="4.9"/>
<circle cx="210.1" cy="903.4" r="9.500" stroke-width="4.9"/>
</g>
<g transform="translate(975,730) scale(0.14493)" stroke-width="8.6">
<path d="M222.0,110.0 L180.0,170.0 L200.0,170.0 L160.0,228.0 L185.0,228.0 L140.0,288.0 L205.0,288.0 L205.0,325.0 L240.0,325.0 L240.0,288.0 L305.0,288.0 L260.0,228.0 L285.0,228.0 L245.0,170.0 L265.0,170.0 Z"/>
<path d="M186.0,140.0 L155.0,95.0 L115.0,150.0 L135.0,150.0 L100.0,205.0 L120.0,205.0 L82.0,260.0 L140.0,260.0"/>
<path d="M260.0,140.0 L290.0,95.0 L330.0,150.0 L310.0,150.0 L348.0,205.0 L328.0,205.0 L365.0,260.0 L308.0,260.0"/>
<path d="M102.0,782.0 C103.0,774.2 101.7,748.7 108.0,735.0 C114.3,721.3 127.7,707.8 140.0,700.0 C152.3,692.2 169.0,687.0 182.0,688.0 C195.0,689.0 209.3,696.0 218.0,706.0 C226.7,716.0 232.7,734.0 234.0,748.0 C235.3,762.0 229.7,780.3 226.0,790.0 C222.3,799.7 214.3,803.3 212.0,806.0"/>
<path d="M166.0,702.0 C164.7,706.7 156.3,721.0 158.0,730.0 C159.7,739.0 174.0,745.7 176.0,756.0 C178.0,766.3 171.0,786.0 170.0,792.0" stroke-width="6.9"/>
<ellipse cx="152" cy="870" rx="70" ry="56" transform="rotate(28 152 870)"/>
<path d="M98.0,832.0 C102.3,836.3 113.7,853.0 124.0,858.0 C134.3,863.0 149.3,858.3 160.0,862.0 C170.7,865.7 179.0,872.7 188.0,880.0 C197.0,887.3 209.7,901.7 214.0,906.0" stroke-width="6.9"/>
<ellipse cx="292" cy="835" rx="56" ry="76" transform="rotate(-14 292 835)"/>
<path d="M254.0,776.0 C257.0,781.3 264.3,799.7 272.0,808.0 C279.7,816.3 293.3,817.0 300.0,826.0 C306.7,835.0 308.3,849.3 312.0,862.0 C315.7,874.7 320.3,895.3 322.0,902.0" stroke-width="6.9"/>
</g>
<g id="rubber" stroke-width="1.25">
<circle cx="1189" cy="848" r="19.200"/>
<circle cx="1189" cy="848" r="9.600"/>
<circle cx="1189" cy="848" r="7.600" stroke-width="1.600" stroke-dasharray="1.300 1.500" opacity="0.9"/>
<circle cx="1189" cy="848" r="5" stroke-width="1.600" stroke-dasharray="1.200 1.400" opacity="0.9"/>
<circle cx="1189" cy="848" r="2.300" stroke-width="1.800" stroke-dasharray="1.100 1.200" opacity="0.9"/>
<path d="M1189,828.800 v3.400 M1189,867.200 v-3.400 M1169.800,848 h3.400 M1208.200,848 h-3.400 M1175.400,834.400 l2.400,2.400 M1202.600,834.400 l-2.400,2.400 M1175.400,861.600 l2.400,-2.400 M1202.600,861.600 l-2.400,-2.400" stroke-width="1"/>
</g>
</g>
</svg>

<span id="t0" class="t" style="left:82.70px;top:49px;font-size:15.70px;line-height:15.70px;transform:scaleX(0.8737);color:#2a2a2a;-webkit-text-stroke:0.25px #2a2a2a;">Federal Ministry</span>
<span id="t1" class="t" style="left:82.70px;top:66px;font-size:15.70px;line-height:15.70px;transform:scaleX(0.8756);color:#2a2a2a;-webkit-text-stroke:0.25px #2a2a2a;">for the Environment, Nature Conservation,</span>
<span id="t2" class="t" style="left:82.70px;top:84px;font-size:15.70px;line-height:15.70px;transform:scaleX(0.8606);color:#2a2a2a;-webkit-text-stroke:0.25px #2a2a2a;">Nuclear Safety and Consumer Protection</span>
<span id="t3" class="t" style="left:427.50px;top:53px;font-size:58.58px;line-height:58.58px;transform:scaleX(0.9009);color:#fff;font-weight:bold;">Strengthening The 'E' In HREDD</span>
<span id="t4" class="t" style="left:428.00px;top:119px;font-size:38.66px;line-height:38.66px;transform:scaleX(0.9999);color:#f6f6fa;-webkit-text-stroke:0.35px #f6f6fa;">Why the environmental dimension of sustainable supply chains matters</span>
<span id="t5" class="t" style="left:1733.20px;top:122px;font-size:19.77px;line-height:19.77px;transform:scaleX(0.9707);color:#fff;font-weight:bold;">G7 GERMANY</span>
<span id="t6" class="t" style="left:1784.20px;top:144px;font-size:13.08px;line-height:13.08px;transform:scaleX(0.9280);color:#fff;font-weight:bold;">2022</span>
<span id="t7" class="t" style="left:28.00px;top:235px;font-size:25.15px;line-height:25.15px;transform:scaleX(1.0568);color:#fff;font-weight:bold;-webkit-text-stroke:0.5px #fff;">G7 MEMBERS, INCLUDING THE EU, ARE RESPONSIBLE FOR 30% OF TROPICAL</span>
<span id="t8" class="t" style="left:28.00px;top:266px;font-size:25.15px;line-height:25.15px;transform:scaleX(1.0832);color:#fff;font-weight:bold;-webkit-text-stroke:0.5px #fff;">DEFORESTATION LINKED TO INTERNATIONAL TRADE OF AGRICULTURAL COMMODITIES</span>
<span id="t9" class="t" style="left:1286.70px;top:237px;font-size:17.44px;line-height:17.44px;transform:scaleX(0.9314);color:#e4f6f8;">The</span>
<span id="t10" class="t" style="left:1286.70px;top:254px;font-size:17.15px;line-height:17.15px;transform:scaleX(0.9778);color:#fff;font-weight:bold;">Food and Land Use</span>
<span id="t11" class="t" style="left:1286.70px;top:271px;font-size:17.44px;line-height:17.44px;transform:scaleX(1.0463);color:#e4f6f8;">Coalition</span>
<span id="t12" class="t" style="left:177.00px;top:378px;font-size:23.69px;line-height:23.69px;transform:scaleX(1.0713);color:#447b8a;">Deforestation risk attributed to international trade of agricultural commodities between 2005 and 2017</span>
<span id="t13" class="t" style="left:351.30px;top:479px;font-size:22.67px;line-height:22.67px;transform:scaleX(1.0456);color:#2d6172;-webkit-text-stroke:0.5px #2d6172;">16,882,968 ha</span>
<span id="t14" class="t" style="left:548.40px;top:492px;font-size:22.67px;line-height:22.67px;transform:scaleX(0.9902);color:#2d6172;-webkit-text-stroke:0.5px #2d6172;">5,121,402 ha</span>
<span id="t15" class="t" style="left:186.00px;top:615px;font-size:22.09px;line-height:22.09px;transform:scaleX(1.1369);color:#2f6776;-webkit-text-stroke:0.75px #2f6776;">Remaining</span>
<span id="t16" class="t" style="left:176.60px;top:644px;font-size:22.09px;line-height:22.09px;transform:scaleX(1.1506);color:#2f6776;-webkit-text-stroke:0.75px #2f6776;">Global: 70%</span>
<span id="t17" class="t" style="left:209.40px;top:772px;font-size:22.53px;line-height:22.53px;transform:scaleX(0.9709);color:#2f6776;-webkit-text-stroke:0.75px #2f6776;">EU+G7</span>
<span id="t18" class="t" style="left:212.60px;top:834px;font-size:22.53px;line-height:22.53px;transform:scaleX(1.1216);color:#fdf3ec;-webkit-text-stroke:0.75px #fdf3ec;">~30%</span>
<span id="t19" class="t" style="left:379.00px;top:891px;font-size:19.19px;line-height:19.19px;transform:scaleX(0.9808);color:#447b8a;">2005-2017</span>
<span id="t20" class="t" style="left:577.50px;top:582px;font-size:18.90px;line-height:18.90px;transform:scaleX(0.8795);color:#fdf7e4;font-weight:bold;">1,733,119</span>
<span id="t21" class="t" style="left:582.60px;top:669px;font-size:18.90px;line-height:18.90px;transform:scaleX(0.9195);color:#fdf7e4;font-weight:bold;">881,616</span>
<span id="t22" class="t" style="left:582.50px;top:722px;font-size:18.90px;line-height:18.90px;transform:scaleX(0.9224);color:#fdf7e4;font-weight:bold;">666,131</span>
<span id="t23" class="t" style="left:582.50px;top:765px;font-size:18.90px;line-height:18.90px;transform:scaleX(0.9224);color:#fdf7e4;font-weight:bold;">567,154</span>
<span id="t24" class="t" style="left:579.50px;top:800px;font-size:18.90px;line-height:18.90px;transform:scaleX(1.0103);color:#fdf7e4;font-weight:bold;">465,293</span>
<span id="t25" class="t" style="left:579.25px;top:829px;font-size:18.90px;line-height:18.90px;transform:scaleX(1.0176);color:#fdf7e4;font-weight:bold;">389,700</span>
<span id="t26" class="t" style="left:582.00px;top:855px;font-size:18.90px;line-height:18.90px;transform:scaleX(0.9371);color:#fdf7e4;font-weight:bold;">341,582</span>
<span id="t27" class="t" style="left:585.60px;top:888px;font-size:18.90px;line-height:18.90px;transform:scaleX(0.9657);color:#2f6776;font-weight:bold;">76,807</span>
<span id="t28" class="t" style="left:700.50px;top:582px;font-size:18.90px;line-height:18.90px;transform:scaleX(1.0219);color:#447b8a;">Remaining EU(24) <b style="color:#2d6172">10%</b></span>
<span id="t29" class="t" style="left:700.50px;top:669px;font-size:18.90px;line-height:18.90px;transform:scaleX(1.0563);color:#447b8a;">United States <b style="color:#2d6172">5%</b></span>
<span id="t30" class="t" style="left:700.50px;top:722px;font-size:18.90px;line-height:18.90px;transform:scaleX(1.0806);color:#447b8a;">Japan <b style="color:#2d6172">4%</b></span>
<span id="t31" class="t" style="left:700.50px;top:765px;font-size:18.90px;line-height:18.90px;transform:scaleX(1.0612);color:#447b8a;">Germany <b style="color:#2d6172">3%</b></span>
<span id="t32" class="t" style="left:700.50px;top:800px;font-size:18.90px;line-height:18.90px;transform:scaleX(1.0905);color:#447b8a;">Italy <b style="color:#2d6172">3%</b></span>
<span id="t33" class="t" style="left:700.50px;top:829px;font-size:18.90px;line-height:18.90px;transform:scaleX(1.0744);color:#447b8a;">United Kingdom <b style="color:#2d6172">2%</b></span>
<span id="t34" class="t" style="left:700.50px;top:855px;font-size:18.90px;line-height:18.90px;transform:scaleX(1.0453);color:#447b8a;">France <b style="color:#2d6172">2%</b></span>
<span id="t35" class="t" style="left:700.50px;top:888px;font-size:18.90px;line-height:18.90px;transform:scaleX(1.0358);color:#447b8a;">Canada <b style="color:#2d6172">&gt;1%</b></span>
<span id="t36" class="t" style="left:976.40px;top:451px;font-size:21.80px;line-height:21.80px;transform:scaleX(1.1659);color:#2f6776;-webkit-text-stroke:0.75px #2f6776;">Driven by consumption</span>
<span id="t37" class="t" style="left:976.40px;top:480px;font-size:21.80px;line-height:21.80px;transform:scaleX(1.1716);color:#2f6776;-webkit-text-stroke:0.75px #2f6776;">of 7 major commodities</span>
<span id="t38" class="t" style="left:1044.20px;top:544px;font-size:18.31px;line-height:18.31px;transform:scaleX(1.0783);color:#447b8a;">Beef and</span>
<span id="t39" class="t" style="left:1044.20px;top:564px;font-size:18.31px;line-height:18.31px;transform:scaleX(1.1497);color:#447b8a;">buffalo meat</span>
<span id="t40" class="t" style="left:1044.20px;top:651px;font-size:18.31px;line-height:18.31px;transform:scaleX(1.0480);color:#447b8a;">Soybeans</span>
<span id="t41" class="t" style="left:1227.90px;top:651px;font-size:18.31px;line-height:18.31px;transform:scaleX(1.1007);color:#447b8a;">Palm Oil</span>
<span id="t42" class="t" style="left:1044.20px;top:739px;font-size:18.31px;line-height:18.31px;transform:scaleX(1.0997);color:#447b8a;">Wood</span>
<span id="t43" class="t" style="left:1044.20px;top:760px;font-size:18.31px;line-height:18.31px;transform:scaleX(1.1013);color:#447b8a;">products</span>
<span id="t44" class="t" style="left:1228.00px;top:750px;font-size:18.31px;line-height:18.31px;transform:scaleX(1.0943);color:#447b8a;">Cocoa beans</span>
<span id="t45" class="t" style="left:1044.20px;top:839px;font-size:18.31px;line-height:18.31px;transform:scaleX(1.0788);color:#447b8a;">Coffee</span>
<span id="t46" class="t" style="left:1228.00px;top:839px;font-size:18.31px;line-height:18.31px;transform:scaleX(1.0647);color:#447b8a;">Rubber</span>
<span id="t47" class="t" style="left:176.80px;top:956px;font-size:16.86px;line-height:16.86px;transform:scaleX(1.0260);color:#447b8a;">*EU27</span>
<span id="t48" class="t" style="left:176.80px;top:977px;font-size:16.86px;line-height:16.86px;transform:scaleX(1.0898);color:#447b8a;"><b style="color:#2d6172">Sources:</b> Pendrill (2020). Analysis by SYSTEMIQ</span>
<span id="t49" class="t" style="left:1368.70px;top:996px;font-size:15.26px;line-height:15.26px;transform:scaleX(0.8840);color:#7f8486;">5</span>

<div id="shadeTop" class="abs"></div>
<div id="shadeBot" class="abs"></div>
</body>
</html>
